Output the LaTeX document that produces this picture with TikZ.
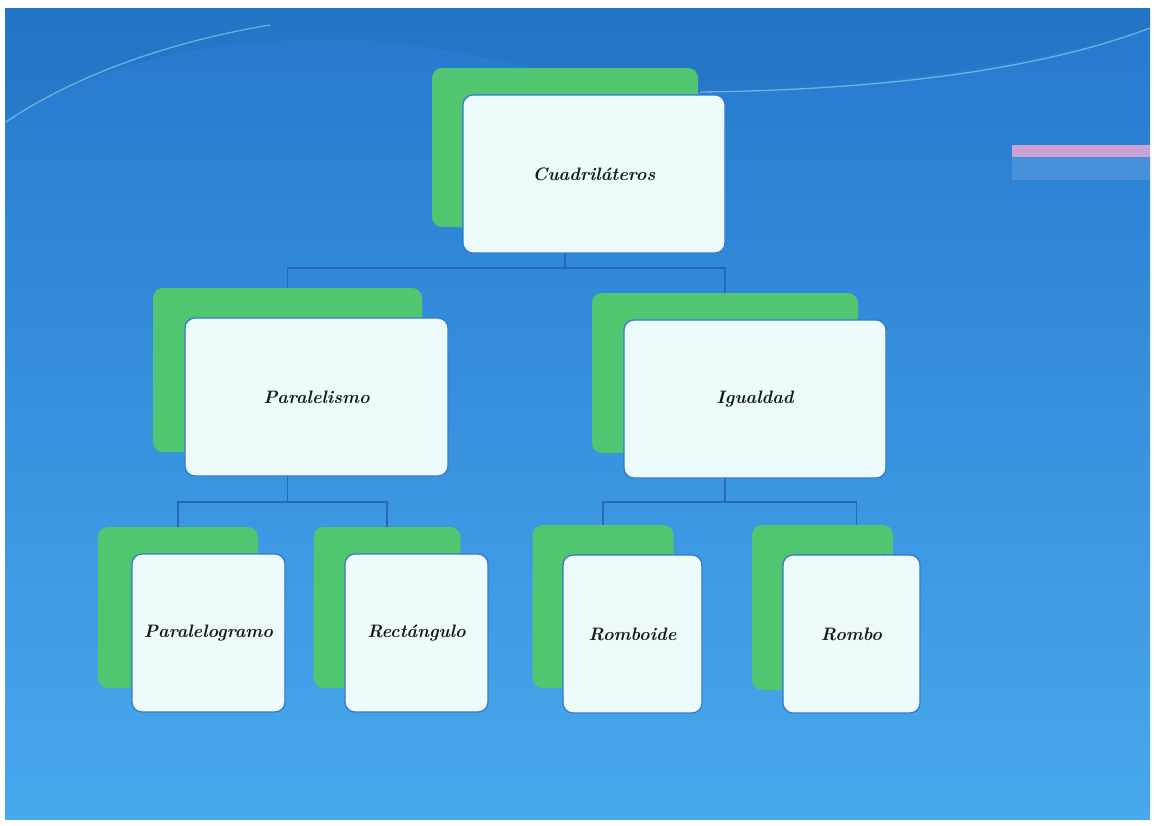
\documentclass[tikz,border=0pt]{standalone}
\usepackage{fontspec}
\usetikzlibrary{calc}
\definecolor{bgtop}{RGB}{38,120,205}
\definecolor{bgbot}{RGB}{72,168,236}
\definecolor{gbox}{RGB}{80,198,112}
\definecolor{wbox}{RGB}{236,250,252}
\definecolor{wline}{RGB}{52,120,200}
\definecolor{conncol}{RGB}{40,104,186}
\definecolor{txt}{RGB}{24,24,32}
\definecolor{swoosh}{RGB}{150,215,235}
\definecolor{pinkish}{RGB}{232,168,212}
\tikzset{
  greenbox/.style={draw=none, fill=gbox, rounded corners=10pt, inner sep=0pt},
  whitebox/.style={draw=wline, line width=1.2pt, fill=wbox, rounded corners=10pt, inner sep=0pt,
     font=\fontsize{18}{21}\selectfont\bfseries\itshape, text=txt, align=center},
  conn/.style={draw=conncol, line width=1.6pt}
}
\begin{document}
\begin{tikzpicture}[x=1pt,y=-1pt]
\useasboundingbox (0,0) rectangle (1154,825);
\fill[white] (0,0) rectangle (1154,825);
% background
\shade[top color=bgtop, bottom color=bgbot, middle color={rgb,255:red,55;green,145;blue,222}] (5,8) rectangle (1150,819);
\fill[bgtop!85!black, opacity=0.2] (5,8) -- (5,122) .. controls (80,70) and (200,35) .. (360,40)
   .. controls (500,50) and (600,95) .. (700,92) .. controls (900,88) and (1050,60) .. (1150,28) -- (1150,8) -- cycle;
\draw[swoosh, opacity=0.6, line width=1.3pt] (6,122) .. controls (60,85) and (150,45) .. (270,25);
\draw[swoosh, opacity=0.6, line width=1.3pt] (700,92) .. controls (880,90) and (1040,70) .. (1150,28);
\fill[pinkish, opacity=0.85] (1012,145) rectangle (1150,157);
\fill[white, opacity=0.12] (1012,157) rectangle (1150,180);

% green back boxes
\node[greenbox, minimum width=266pt, minimum height=159pt] (gtop) at (565,147.5) {};
\node[greenbox, minimum width=269pt, minimum height=164pt] (gpar) at (287.5,370) {};
\node[greenbox, minimum width=266pt, minimum height=160pt] (gig) at (725,373) {};
\node[greenbox, minimum width=160pt, minimum height=161pt] (gpgr) at (178,607.5) {};
\node[greenbox, minimum width=147pt, minimum height=161pt] (grec) at (387,607.5) {};
\node[greenbox, minimum width=141pt, minimum height=163pt] (grbd) at (603,606.5) {};
\node[greenbox, minimum width=141pt, minimum height=165pt] (grom) at (822.5,607.5) {};

% connectors
\draw[conn] (gtop.center |- 0,253) -- (gtop.center |- 0,268) -| (gpar.north);
\draw[conn] (gtop.center |- 0,268) -| (gig.north);
\draw[conn] (gpar.center |- 0,476) -- (gpar.center |- 0,502) -| (gpgr.north);
\draw[conn] (gpar.center |- 0,502) -| (grec.north);
\draw[conn] (gig.center |- 0,478) -- (gig.center |- 0,502) -| (grbd.north);
\draw[conn] (gig.center |- 0,502) -| ($(grom.north)+(34,0)$);

% white front boxes
\node[whitebox, minimum width=262pt, minimum height=158pt] (top) at (594,174) {Cuadriláteros};
\node[whitebox, minimum width=263pt, minimum height=158pt] (par) at (316.5,397) {Paralelismo};
\node[whitebox, minimum width=262pt, minimum height=158pt] (ig) at (755,399) {Igualdad};
\node[whitebox, minimum width=153pt, minimum height=158pt] (pgr) at (208.5,633) {Paralelogramo};
\node[whitebox, minimum width=143pt, minimum height=158pt] (rec) at (416.5,633) {Rectángulo};
\node[whitebox, minimum width=139pt, minimum height=158pt] (rbd) at (632.5,634) {Romboide};
\node[whitebox, minimum width=137pt, minimum height=158pt] (rom) at (851.5,634) {Rombo};
\end{tikzpicture}
\end{document}
